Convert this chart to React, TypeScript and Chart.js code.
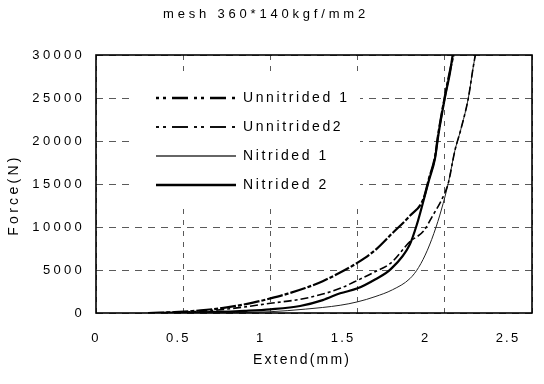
import React, { useEffect, useRef } from 'react';
import { Chart, registerables } from 'chart.js';

Chart.register(...registerables);

const FONT = "'Liberation Sans', Arial, Helvetica, sans-serif";

const chartTitle = 'mesh 360*140kgf/mm2';
const xAxisTitle = 'Extend(mm)';
const yAxisTitle = 'Force(N)';
const xTickValues = [0, 0.5, 1, 1.5, 2, 2.5];
const yTickValues = [0, 5000, 10000, 15000, 20000, 25000, 30000];
const seriesNames = ['Unnitrided 1', 'Unnitrided2', 'Nitrided 1', 'Nitrided 2'];

// Unnitrided 1
const unnitrided1Extend = [0.3, 0.45, 0.6, 0.75, 0.9, 1.0, 1.1, 1.2, 1.3, 1.4, 1.5, 1.6, 1.7, 1.8, 1.877, 1.91, 1.944, 1.963, 2.0, 2.03, 2.05];
const unnitrided1Force = [0, 100, 300, 650, 1200, 1700, 2250, 2900, 3700, 4700, 5850, 7300, 9300, 11300, 13250, 15700, 18200, 20900, 25150, 28200, 30000];

// Unnitrided2
const unnitrided2Extend = [0.3, 0.5, 0.7, 0.85, 1.0, 1.17, 1.3, 1.4, 1.5, 1.6, 1.69, 1.8, 1.877, 1.93, 1.99, 2.02, 2.058, 2.09, 2.135, 2.163, 2.175];
const unnitrided2Force = [0, 100, 350, 700, 1130, 1590, 2200, 2870, 3800, 4800, 5800, 8300, 9500, 11300, 13500, 15100, 18900, 21200, 25000, 28600, 30000];

// Nitrided 1
const nitrided1Extend = [0.35, 0.6, 0.8, 1.0, 1.2, 1.4, 1.5, 1.6, 1.7, 1.8, 1.85, 1.9, 1.95, 1.99, 2.02, 2.058, 2.09, 2.135, 2.163, 2.175];
const nitrided1Force = [0, 20, 60, 150, 450, 900, 1300, 1900, 2700, 4000, 5300, 7300, 10000, 12700, 15100, 18900, 21200, 25000, 28600, 30000];

// Nitrided 2
const nitrided2Extend = [0.3, 0.5, 0.7, 0.85, 1.0, 1.17, 1.3, 1.4, 1.5, 1.6, 1.69, 1.8, 1.84, 1.877, 1.91, 1.944, 1.963, 2.0, 2.03, 2.045];
const nitrided2Force = [0, 30, 120, 250, 430, 810, 1500, 2290, 2870, 3900, 5100, 8000, 10300, 13000, 15500, 18000, 20700, 25000, 28000, 30000];

const toPoints = (xs: number[], ys: number[]) => xs.map((x, i) => ({ x, y: ys[i] }));

const legendDash = [[3, 4, 3, 6, 16, 6], [3, 4, 3, 6, 16, 6], [], []];
const legendWidth = [2.6, 2, 1.3, 2.6];
const legendColor = ['#000', '#111', '#333', '#000'];

const wrapTitle = (scale: any, ctx: any, dx: number, dy: number) => {
  const orig = Object.getPrototypeOf(scale).drawTitle;
  scale.drawTitle = function (...args: any[]) {
    ctx.save();
    ctx.translate(dx, dy);
    orig.apply(this, args);
    ctx.restore();
  };
};

const styleBoxes = {
  id: 'styleBoxes',
  beforeLayout(chart: any) {
    const ctx = chart.ctx;
    const wrap = (box: any, spacing: string, z: number, pre?: () => void) => {
      if (!box || box.__wrapped) return;
      box.__wrapped = true;
      box._layers = () => [
        {
          z,
          draw: (area: any) => {
            ctx.save();
            if (pre) pre();
            ctx.letterSpacing = spacing;
            box.draw(area);
            ctx.restore();
          },
        },
      ];
    };
    wrap(chart.titleBlock, '3.8px', 0);
    const sx = chart.scales.x;
    const sxl = chart.scales.xl;
    const sy = chart.scales.y;
    if (sxl && !sxl.__wrapped) wrapTitle(sxl, ctx, -12, 0);
    if (sy && !sy.__wrapped) wrapTitle(sy, ctx, 0, 11);
    wrap(sx, '2px', 0);
    wrap(sxl, '2.2px', 0);
    wrap(sy, '3.3px', 0);
    const lg = chart.legend;
    wrap(lg, '2.6px', 1, () => {
      ctx.fillStyle = '#ffffff';
      ctx.fillRect(lg.left - 6, lg.top + 1, 225, 126);
    });
  },
  afterLayout(chart: any) {
    const lg = chart.legend;
    const ca = chart.chartArea;
    if (!lg) return;
    lg.left = ca.left + 45;
    lg.top = ca.top + 21;
    lg.right = lg.left + 420;
    lg.bottom = ca.bottom;
  },
  afterDatasetsDraw(chart: any) {
    const { ctx, chartArea: ca } = chart;
    ctx.save();
    ctx.strokeStyle = '#000';
    ctx.lineWidth = 1.6;
    ctx.setLineDash([]);
    ctx.strokeRect(ca.left, ca.top, ca.right - ca.left, ca.bottom - ca.top);
    ctx.restore();
  },
};

export default function App() {
  const canvasRef = useRef<HTMLCanvasElement | null>(null);

  useEffect(() => {
    const canvas = canvasRef.current;
    if (!canvas) return;

    const base = {
      fill: false,
      pointRadius: 0,
      pointHoverRadius: 0,
      borderColor: '#000',
      backgroundColor: '#000',
      cubicInterpolationMode: 'monotone' as const,
    };

    const chart = new Chart(canvas, {
      type: 'line',
      data: {
        datasets: [
          { ...base, label: seriesNames[0], data: toPoints(unnitrided1Extend, unnitrided1Force), borderWidth: 2.2, borderDash: [16, 2, 4, 2] },
          { ...base, label: seriesNames[1], data: toPoints(unnitrided2Extend, unnitrided2Force), borderWidth: 1.6, borderDash: [8, 3, 3, 3] },
          { ...base, label: seriesNames[2], data: toPoints(nitrided1Extend, nitrided1Force), borderWidth: 1, borderColor: '#222' },
          { ...base, label: seriesNames[3], data: toPoints(nitrided2Extend, nitrided2Force), borderWidth: 2.2 },
        ],
      },
      options: {
        animation: false,
        responsive: false,
        maintainAspectRatio: false,
        devicePixelRatio: 1,
        events: [],
        layout: { padding: { left: 0, top: 0, right: 12, bottom: 0 } },
        scales: {
          x: {
            type: 'linear',
            position: 'bottom',
            weight: 0,
            min: 0,
            max: 2.5,
            afterBuildTicks: (s: any) => { s.ticks = xTickValues.map((v) => ({ value: v })); },
            afterFit: (s: any) => { s.height = 0; },
            ticks: { display: false },
            grid: { color: '#5a5a5a', lineWidth: 1, drawTicks: false },
            border: { display: false, dash: [5, 6] },
            title: { display: false },
          },
          xl: {
            type: 'linear',
            position: 'bottom',
            weight: 1,
            min: 0,
            max: 2.6456,
            afterBuildTicks: (s: any) => { s.ticks = xTickValues.map((v) => ({ value: v })); },
            afterFit: (s: any) => { s.height = 71; },
            ticks: {
              autoSkip: false,
              maxRotation: 0,
              padding: 18,
              color: '#000',
              font: { family: FONT, size: 13 },
              callback: (v: any) => String(v),
            },
            grid: { display: false, drawTicks: false },
            border: { display: false },
            title: {
              display: true,
              text: xAxisTitle,
              color: '#000',
              font: { family: FONT, size: 14 },
              padding: { top: 0, bottom: 15 },
            },
          },
          y: {
            type: 'linear',
            min: 0,
            max: 30000,
            afterBuildTicks: (s: any) => { s.ticks = yTickValues.map((v) => ({ value: v })); },
            afterFit: (s: any) => { s.width = 96; },
            ticks: {
              padding: 11,
              color: '#000',
              font: { family: FONT, size: 13 },
              callback: (v: any) => String(v),
            },
            grid: { color: '#5a5a5a', lineWidth: 1, drawTicks: false },
            border: { display: false, dash: [7, 6] },
            title: {
              display: true,
              text: yAxisTitle,
              color: '#000',
              font: { family: FONT, size: 14 },
              padding: { top: 6, bottom: 0 },
            },
          },
        },
        plugins: {
          title: {
            display: true,
            text: chartTitle,
            color: '#000',
            font: { family: FONT, size: 13, weight: 'normal' },
            padding: { top: 7, bottom: 32.4 },
          },
          legend: {
            display: true,
            position: 'chartArea',
            align: 'start',
            labels: {
              usePointStyle: true,
              pointStyle: 'line',
              pointStyleWidth: 80,
              padding: 15,
              color: '#000',
              font: { family: FONT, size: 14 },
              generateLabels: (c: any) => {
                const items = (Chart.defaults.plugins.legend.labels as any).generateLabels(c);
                items.forEach((it: any, i: number) => {
                  it.lineDash = legendDash[i];
                  it.lineWidth = legendWidth[i];
                  it.strokeStyle = legendColor[i];
                  it.lineCap = 'butt';
                  it.pointStyle = 'line';
                });
                return items;
              },
            },
          },
          tooltip: { enabled: false },
        },
      } as any,
      plugins: [styleBoxes],
    });

    return () => chart.destroy();
  }, []);

  return (
    <div style={{ position: 'absolute', left: 0, top: 0, width: 544, height: 384, background: '#fff' }}>
      <canvas ref={canvasRef} width={544} height={384} style={{ display: 'block' }} />
    </div>
  );
}
